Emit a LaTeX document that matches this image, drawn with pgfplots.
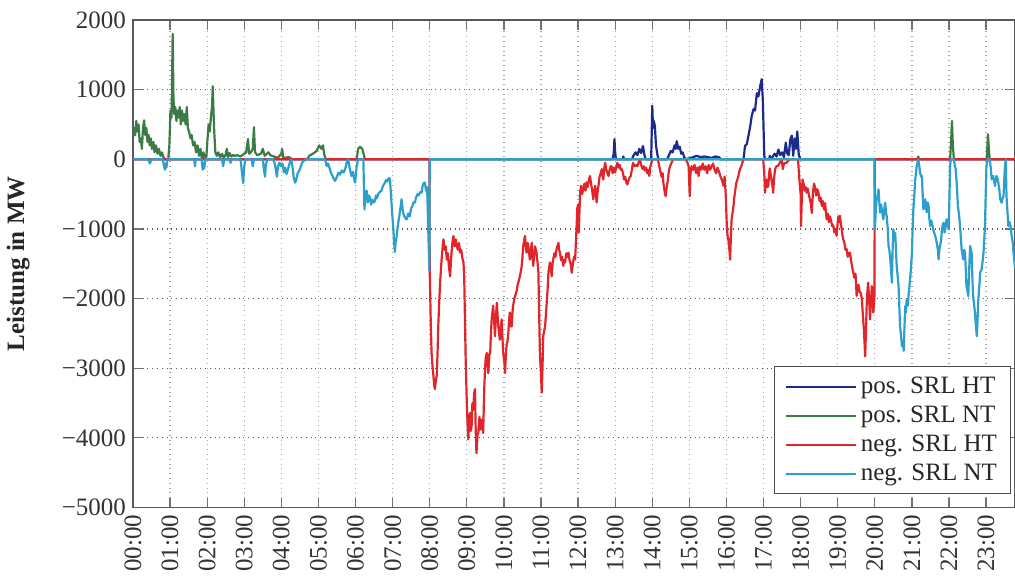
\documentclass[border=0pt]{standalone}
\usepackage{pgfplots}
\pgfplotsset{compat=1.18}
\usepackage{fontspec}
\setmainfont{Liberation Serif}
\definecolor{posHT}{HTML}{1B2A8C}
\definecolor{posNT}{HTML}{3C7A46}
\definecolor{negHT}{HTML}{E0262A}
\definecolor{negNT}{HTML}{2C9FCC}
\begin{document}
\begin{tikzpicture}
\begin{axis}[
  name=ax, at={(0,0)}, anchor=south west,
  scale only axis, width=441pt, height=243.75pt,
  xmin=0, xmax=23.78, ymin=-5000, ymax=2000,
  axis line style={draw=black!65, line width=0.8pt},
  tick align=inside, major tick length=5pt,
  tick style={draw=black!55, line width=0.6pt},
  xtick={0,1,...,23},
  xticklabels={00:00,01:00,02:00,03:00,04:00,05:00,06:00,07:00,08:00,09:00,10:00,11:00,12:00,13:00,14:00,15:00,16:00,17:00,18:00,19:00,20:00,21:00,22:00,23:00},
  xticklabel style={rotate=90, anchor=east, font=\fontsize{12.5}{15}\selectfont, text=black!80},
  ytick={-5000,-4000,-3000,-2000,-1000,0,1000,2000},
  yticklabels={−5000,−4000,−3000,−2000,−1000,0,1000,2000},
  yticklabel style={font=\fontsize{12.5}{15}\selectfont, text=black!80},
  xmajorgrids, ymajorgrids,
  x grid style={dotted, black!35, line width=0.6pt},
  y grid style={dotted, black!65, line width=0.6pt},
  ylabel={Leistung in MW},
  ylabel style={at={(axis description cs:-0.13,0.5)}, anchor=center, font=\bfseries\fontsize{12.5}{15}\selectfont, text=black!85},
  legend style={at={(rel axis cs:0.996,0.027)}, anchor=south east, draw=black!70, line width=0.6pt, fill=white,
    font=\fontsize{12.5}{15}\selectfont, text=black!85, row sep=0.8pt, inner xsep=5pt, inner ysep=3pt},
  legend cell align=left,
  legend image code/.code={\draw[#1] (0pt,0pt) -- (35pt,0pt);},
  legend image post style={line width=1pt},
  every axis plot/.append style={line width=1.1pt, line join=round},
]
% pos. SRL HT
\addplot[posHT] table {
0 0
12.93 0
12.96 80
12.98 290
13.00 100
13.02 0
13.20 0
13.22 40
13.24 0
13.45 0
13.50 60
13.55 100
13.60 60
13.65 150
13.70 90
13.75 190
13.79 60
13.82 0
13.97 0
13.99 500
14.00 770
14.02 450
14.04 550
14.07 480
14.10 200
14.14 60
14.17 0
14.40 0
14.45 60
14.50 120
14.55 100
14.60 200
14.63 150
14.66 260
14.70 150
14.74 180
14.78 80
14.82 100
14.86 30
14.90 0
15.10 30
15.20 50
15.30 30
15.40 40
15.50 30
15.60 20
15.70 40
15.80 30
15.85 0
16.46 0
16.50 190
16.55 220
16.59 330
16.64 470
16.68 620
16.73 720
16.77 700
16.82 950
16.86 900
16.91 1050
16.95 1150
16.98 860
17.02 50
17.04 0
17.15 0
17.17 50
17.20 0
17.30 80
17.35 40
17.40 140
17.45 60
17.50 100
17.55 30
17.60 240
17.64 80
17.68 60
17.72 280
17.76 340
17.80 50
17.84 300
17.88 150
17.91 400
17.95 60
18.00 0
23.78 0
};
\addlegendentry{pos. SRL HT}
% pos. SRL NT
\addplot[posNT] table {
0 300
0.03 450
0.06 350
0.09 550
0.12 400
0.15 500
0.18 250
0.21 300
0.24 150
0.27 450
0.30 560
0.33 350
0.36 450
0.39 250
0.42 350
0.45 200
0.48 300
0.51 150
0.55 250
0.58 100
0.62 200
0.66 80
0.70 150
0.74 50
0.78 100
0.82 30
0.86 0
0.95 0
0.98 200
1.01 700
1.04 600
1.07 1800
1.09 900
1.11 650
1.14 750
1.17 550
1.20 700
1.23 600
1.26 750
1.29 500
1.32 700
1.35 550
1.38 650
1.42 500
1.45 750
1.48 450
1.51 400
1.55 300
1.58 350
1.62 200
1.66 250
1.70 100
1.74 200
1.78 50
1.82 150
1.86 0
1.90 100
1.94 0
1.98 50
2.01 300
2.04 500
2.07 400
2.10 600
2.13 750
2.15 1050
2.17 700
2.19 400
2.22 100
2.26 50
2.30 100
2.35 30
2.40 80
2.45 20
2.50 70
2.53 150
2.56 30
2.60 90
2.65 40
2.70 60
2.75 50
2.80 60
2.90 40
3.00 80
3.05 100
3.10 290
3.13 80
3.18 100
3.23 150
3.26 460
3.29 100
3.35 60
3.45 80
3.50 150
3.55 50
3.65 100
3.70 60
3.80 40
3.90 20
4.00 80
4.02 150
4.05 20
4.20 30
4.30 0
4.70 0
4.75 50
4.85 80
4.95 120
5.02 200
5.08 150
5.12 200
5.16 60
5.20 0
6.03 0
6.07 150
6.12 180
6.18 150
6.23 50
6.25 0
21.15 0
21.17 40
21.19 0
22.03 0
22.06 300
22.08 550
22.10 250
22.13 0
23.02 0
23.05 360
23.08 100
23.10 0
23.78 0
};
\addlegendentry{pos. SRL NT}
% neg. SRL HT
\addplot[negHT] table {
0 0
7.99 0
8.00 -1600
8.03 -2400
8.05 -2780
8.08 -3000
8.10 -3110
8.12 -3250
8.14 -3300
8.17 -3150
8.19 -3110
8.21 -2800
8.23 -2400
8.26 -2000
8.28 -1770
8.30 -1600
8.32 -1440
8.35 -1250
8.37 -1150
8.40 -1300
8.43 -1250
8.46 -1440
8.49 -1350
8.52 -1550
8.55 -1680
8.58 -1400
8.61 -1200
8.64 -1100
8.67 -1250
8.70 -1150
8.73 -1250
8.76 -1300
8.79 -1200
8.82 -1340
8.85 -1300
8.88 -1420
8.91 -1480
8.93 -1700
8.95 -2300
8.97 -2900
9.00 -3500
9.02 -3800
9.04 -4020
9.07 -3700
9.09 -3640
9.11 -3900
9.13 -3830
9.15 -3500
9.17 -3600
9.20 -3350
9.22 -3300
9.24 -3900
9.26 -4220
9.29 -3950
9.31 -3930
9.34 -3700
9.36 -3880
9.38 -3750
9.40 -3740
9.42 -3850
9.44 -3930
9.47 -3300
9.49 -3020
9.51 -2850
9.54 -2780
9.56 -2950
9.58 -3070
9.61 -2800
9.63 -2780
9.65 -2500
9.67 -2300
9.69 -2200
9.71 -2100
9.74 -2350
9.76 -2540
9.78 -2300
9.81 -2060
9.83 -2250
9.85 -2400
9.87 -2500
9.89 -2590
9.92 -2400
9.94 -2300
9.96 -2550
9.98 -2780
10.01 -2900
10.03 -3070
10.05 -2850
10.07 -2680
10.10 -2600
10.12 -2490
10.14 -2300
10.16 -2200
10.19 -2400
10.21 -2400
10.23 -2200
10.25 -2100
10.28 -2000
10.31 -1950
10.34 -1900
10.37 -1800
10.40 -1750
10.43 -1680
10.46 -1600
10.48 -1530
10.50 -1400
10.52 -1250
10.55 -1150
10.57 -1100
10.59 -1250
10.61 -1340
10.64 -1200
10.66 -1250
10.68 -1350
10.70 -1440
10.73 -1300
10.75 -1200
10.77 -1400
10.79 -1530
10.82 -1350
10.84 -1250
10.86 -1300
10.88 -1340
10.91 -1500
10.93 -1630
10.95 -2200
10.97 -2780
11.00 -3100
11.02 -3350
11.04 -3000
11.06 -2540
11.09 -2450
11.11 -2400
11.13 -2250
11.15 -2100
11.18 -1850
11.20 -1630
11.22 -1550
11.24 -1480
11.27 -1600
11.29 -1680
11.31 -1500
11.33 -1440
11.36 -1350
11.39 -1400
11.42 -1290
11.44 -1250
11.47 -1200
11.49 -1300
11.51 -1340
11.54 -1450
11.57 -1400
11.60 -1530
11.63 -1450
11.65 -1480
11.68 -1350
11.71 -1400
11.74 -1340
11.77 -1450
11.80 -1500
11.83 -1630
11.86 -1500
11.89 -1400
11.92 -1440
11.94 -1200
11.96 -960
11.98 -700
12.00 -650
12.02 -1050
12.04 -700
12.06 -450
12.08 -380
12.11 -500
12.14 -430
12.17 -350
12.20 -450
12.23 -330
12.26 -400
12.29 -300
12.32 -240
12.35 -350
12.38 -450
12.41 -575
12.44 -450
12.46 -380
12.48 -500
12.50 -620
12.53 -450
12.55 -380
12.58 -250
12.61 -200
12.64 -140
12.66 -250
12.68 -290
12.70 -150
12.73 -50
12.76 -150
12.79 -200
12.82 -240
12.85 -150
12.88 -100
12.90 -100
12.93 -200
12.96 -120
13.00 -190
13.03 -100
13.06 -50
13.09 -120
13.12 -80
13.15 -150
13.18 -140
13.21 -200
13.24 -290
13.27 -250
13.30 -330
13.33 -360
13.36 -300
13.39 -260
13.42 -240
13.45 -150
13.48 -50
13.52 -100
13.56 -80
13.60 -100
13.64 -30
13.67 0
13.70 -80
13.74 -140
13.77 -100
13.80 -160
13.83 -120
13.86 -200
13.89 -150
13.92 -240
13.95 -100
13.98 -50
14.00 0
14.15 0
14.18 -80
14.21 -150
14.25 -250
14.28 -200
14.30 -340
14.33 -450
14.36 -530
14.39 -400
14.42 -300
14.45 -150
14.48 -100
14.52 -50
14.56 0
14.90 0
14.95 -50
14.98 -100
15.01 -530
15.03 -200
15.06 -100
15.10 -150
15.14 -80
15.18 -200
15.22 -120
15.25 -240
15.28 -100
15.32 -150
15.36 -60
15.40 -150
15.44 -100
15.48 -200
15.52 -80
15.56 -150
15.60 -100
15.64 -60
15.68 -150
15.72 -200
15.76 -120
15.80 -180
15.84 -250
15.88 -300
15.92 -380
15.95 -250
15.98 -500
16.01 -960
16.03 -1100
16.05 -1150
16.08 -1300
16.10 -1440
16.12 -1100
16.14 -860
16.17 -750
16.19 -670
16.21 -550
16.23 -480
16.26 -350
16.29 -300
16.32 -240
16.36 -150
16.40 -100
16.43 -50
16.46 0
16.99 0
17.02 -200
17.04 -480
17.06 -350
17.08 -290
17.11 -400
17.13 -380
17.15 -200
17.17 -130
17.20 -250
17.24 -380
17.26 -480
17.28 -300
17.31 -140
17.35 -100
17.40 -90
17.44 -50
17.49 0
17.52 -140
17.55 -60
17.62 -50
17.70 0
17.93 0
17.96 -250
18.00 -500
18.01 -960
18.03 -600
18.05 -290
18.08 -350
18.11 -450
18.14 -400
18.16 -480
18.19 -420
18.22 -500
18.25 -575
18.28 -650
18.30 -770
18.33 -500
18.36 -350
18.39 -400
18.42 -520
18.45 -430
18.48 -480
18.51 -600
18.54 -550
18.57 -670
18.60 -600
18.63 -720
18.66 -630
18.68 -750
18.70 -860
18.73 -780
18.76 -900
18.79 -820
18.82 -880
18.85 -960
18.88 -950
18.91 -1050
18.94 -1000
18.97 -1100
19.00 -900
19.02 -820
19.04 -900
19.06 -810
19.09 -950
19.11 -1000
19.13 -1100
19.15 -1150
19.18 -1200
19.21 -1300
19.24 -1290
19.27 -1400
19.30 -1350
19.33 -1340
19.36 -1450
19.39 -1550
19.42 -1630
19.45 -1700
19.48 -1640
19.51 -1960
19.54 -1850
19.56 -1800
19.59 -1900
19.62 -1920
19.65 -2000
19.68 -2250
19.70 -2400
19.72 -2600
19.74 -2830
19.76 -2500
19.78 -2100
19.80 -1900
19.82 -1770
19.85 -2050
19.87 -2300
19.89 -2100
19.92 -1820
19.94 -2000
19.96 -2200
19.98 -2050
19.99 -1960
20.00 0
23.78 0
};
\addlegendentry{neg. SRL HT}
% neg. SRL NT
\addplot[negNT] table {
0 0
0.40 0
0.43 -30
0.46 -60
0.49 0
0.80 0
0.83 -80
0.86 -150
0.88 -60
0.90 -120
0.93 0
1.65 0
1.67 -100
1.69 0
1.85 0
1.88 -150
1.90 -60
1.92 -130
1.95 0
2.40 0
2.43 -100
2.46 0
2.60 0
2.63 -50
2.66 0
2.90 0
2.94 -200
2.97 -340
3.00 -100
3.03 0
3.20 0
3.23 -100
3.26 0
3.50 0
3.53 -150
3.56 -250
3.58 -80
3.62 0
3.78 0
3.82 -60
3.85 -150
3.88 -250
3.91 -100
3.95 -50
3.99 -100
4.03 -60
4.07 -190
4.10 -120
4.14 -210
4.18 -140
4.22 -60
4.26 0
4.30 -100
4.33 -250
4.37 -335
4.40 -300
4.44 -200
4.50 -144
4.55 -60
4.59 -24
4.65 -10
4.72 0
5.18 0
5.22 -96
5.26 -60
5.31 -144
5.34 -200
5.38 -240
5.42 -290
5.45 -310
5.49 -260
5.54 -192
5.58 -220
5.63 -160
5.68 -190
5.72 -144
5.77 -24
5.80 0
5.85 -150
5.89 -240
5.93 -180
5.96 -280
5.99 -335
6.03 -100
6.07 0
6.21 0
6.24 -718
6.27 -500
6.30 -450
6.33 -620
6.36 -520
6.39 -550
6.42 -650
6.45 -580
6.49 -620
6.52 -600
6.55 -520
6.58 -560
6.61 -500
6.65 -470
6.70 -450
6.74 -380
6.78 -350
6.82 -300
6.85 -320
6.88 -280
6.91 -270
6.93 -300
6.96 -550
6.99 -800
7.02 -1000
7.04 -1200
7.06 -1330
7.08 -1200
7.11 -1100
7.14 -950
7.17 -850
7.21 -700
7.24 -575
7.27 -720
7.30 -800
7.33 -830
7.36 -860
7.38 -862
7.42 -780
7.46 -820
7.50 -700
7.53 -680
7.56 -620
7.60 -623
7.63 -550
7.67 -500
7.70 -520
7.74 -470
7.78 -479
7.81 -380
7.84 -340
7.87 -335
7.90 -450
7.93 -400
7.95 -800
7.97 -1200
7.99 -1600
8.00 0
19.99 0
20.00 -1000
20.03 -700
20.05 -575
20.08 -500
20.10 -431
20.12 -600
20.14 -766
20.17 -650
20.19 -718
20.21 -800
20.23 -862
20.26 -700
20.28 -623
20.30 -750
20.32 -820
20.35 -1000
20.37 -1245
20.39 -1300
20.41 -1389
20.44 -1600
20.46 -1772
20.48 -1300
20.50 -1006
20.53 -1100
20.55 -1060
20.57 -1300
20.59 -1533
20.62 -1700
20.64 -1820
20.66 -2100
20.68 -2395
20.71 -2550
20.73 -2682
20.75 -2600
20.78 -2750
20.80 -2400
20.82 -2107
20.84 -2200
20.86 -2012
20.89 -2100
20.91 -1950
20.93 -1850
20.95 -1724
20.97 -1600
21.00 -1341
21.02 -1000
21.04 -718
21.06 -550
21.09 -287
21.11 -200
21.13 -96
21.15 -50
21.17 0
21.20 -100
21.22 -192
21.25 -250
21.27 -240
21.29 -500
21.31 -718
21.34 -620
21.36 -575
21.38 -700
21.40 -760
21.43 -620
21.45 -670
21.47 -850
21.49 -958
21.52 -880
21.54 -910
21.57 -1000
21.60 -1050
21.63 -1101
21.65 -1150
21.67 -1197
21.70 -1300
21.72 -1437
21.74 -1300
21.76 -1245
21.79 -1150
21.81 -1006
21.83 -950
21.85 -910
21.88 -1050
21.90 -1006
21.92 -900
21.94 -862
21.97 -950
21.99 -1006
22.01 -600
22.03 -96
22.05 0
22.13 0
22.16 -96
22.18 -150
22.20 -287
22.22 -450
22.24 -671
22.27 -800
22.29 -910
22.31 -1050
22.34 -1293
22.36 -1350
22.38 -1437
22.41 -1300
22.43 -1341
22.45 -1550
22.47 -1820
22.50 -1900
22.52 -1964
22.55 -1500
22.57 -1245
22.59 -1300
22.61 -1341
22.63 -1700
22.65 -1964
22.68 -2100
22.70 -2203
22.72 -2350
22.75 -2540
22.77 -2300
22.79 -2011
22.82 -1800
22.84 -1628
22.86 -1600
22.88 -1580
22.91 -1450
22.93 -1341
22.95 -1150
22.97 -958
22.99 -500
23.01 -96
23.04 0
23.10 0
23.13 -150
23.15 -287
23.17 -250
23.19 -240
23.22 -320
23.24 -383
23.26 -300
23.28 -240
23.31 -280
23.33 -335
23.36 -450
23.38 -575
23.40 -600
23.42 -623
23.45 -550
23.47 -527
23.49 -300
23.51 -96
23.53 0
23.55 -527
23.57 -700
23.60 -958
23.62 -900
23.64 -910
23.67 -1000
23.69 -1101
23.72 -1200
23.74 -1341
23.76 -1450
23.78 -1550
};
\addlegendentry{neg. SRL NT}
\end{axis}
\pgfresetboundingbox
\path (-66.5pt,-35.25pt) rectangle (441pt,253.75pt);
\end{tikzpicture}
\end{document}
